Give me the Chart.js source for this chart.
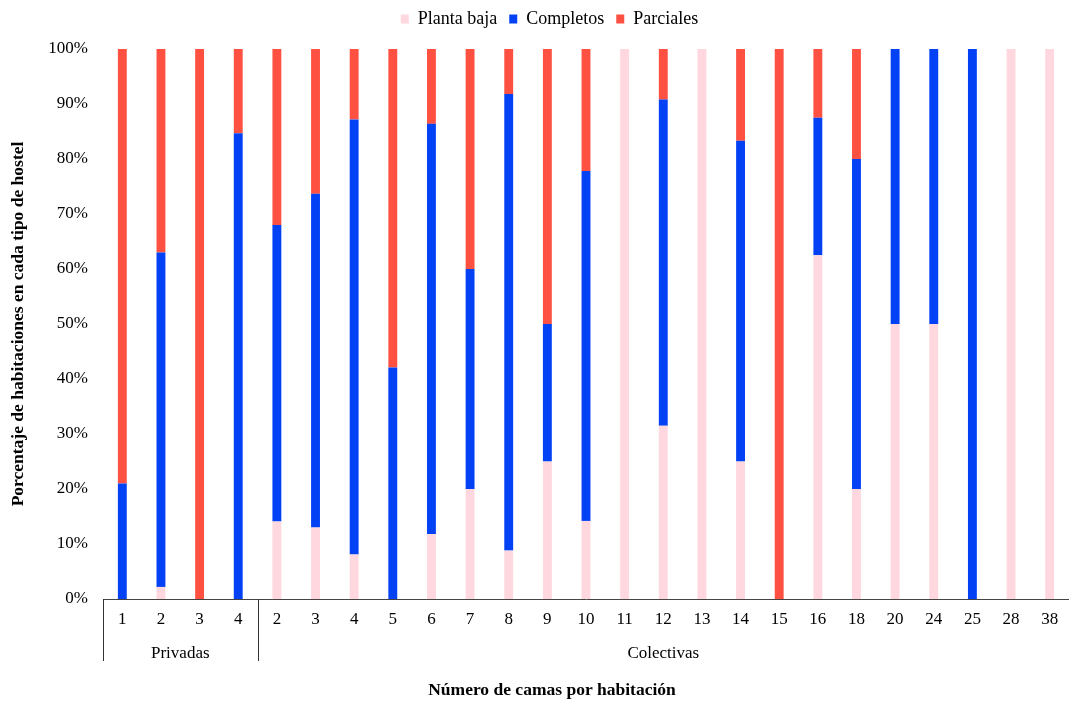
<!DOCTYPE html>
<html>
<head>
<meta charset="utf-8">
<script src="https://cdn.jsdelivr.net/npm/chart.js@4/dist/chart.umd.min.js"></script>
<style>
html,body{margin:0;padding:0;background:#fff;}
#wrap{width:1069px;height:703px;position:relative;}
</style>
</head>
<body>
<div id="wrap"><canvas id="c" width="1069" height="703"></canvas></div>
<script>
// Categories (number of beds per room) and their groups
const categories = ['1','2','3','4','2','3','4','5','6','7','8','9','10','11','12','13','14','15','16','18','20','24','25','28','38'];
const groupNames = ['Privadas', 'Colectivas'];
const groupSizes = [4, 21];

// Series values (% of rooms)
const plantaBaja = [0, 2.2, 0, 0, 14.1, 13.0, 8.1, 0, 11.8, 20.0, 8.8, 25.0, 14.2, 100, 31.5, 100, 25.0, 0, 62.5, 20.0, 50, 50, 0, 100, 100];
const completos  = [21.0, 60.8, 0, 84.7, 53.9, 60.7, 79.1, 42.1, 74.6, 40.0, 83.0, 25.0, 63.6, 0, 59.3, 0, 58.3, 0, 25.0, 60.0, 50, 50, 100, 0, 0];
const parciales  = [79.0, 37.0, 100, 15.3, 32.0, 26.3, 12.8, 57.9, 13.6, 40.0, 8.2, 50.0, 22.2, 0, 9.2, 0, 16.7, 100, 12.5, 20.0, 0, 0, 0, 0, 0];

const yTicks = [0,10,20,30,40,50,60,70,80,90,100];
const seriesNames = ['Planta baja', 'Completos', 'Parciales'];
const seriesColors = ['#FFD7DE', '#0341F5', '#FE5142'];

const FONT = '"Liberation Serif", "Times New Roman", serif';

const groupPlugin = {
  id: 'groups',
  afterDraw(chart) {
    const {ctx, chartArea, scales} = chart;
    const x = scales.x;
    const step = (x.getPixelForValue(1) - x.getPixelForValue(0));
    ctx.save();
    ctx.strokeStyle = '#333';
    ctx.lineWidth = 1;
    let idx = 0;
    const yTop = chartArea.bottom;
    const yBot = chartArea.bottom + 62;
    const boundaries = [0];
    groupSizes.forEach(s => { idx += s; boundaries.push(idx); });
    boundaries.forEach(b => {
      const px = Math.round(x.getPixelForValue(b) - step / 2) + 0.5;
      ctx.beginPath();
      ctx.moveTo(px, yTop);
      ctx.lineTo(px, yBot);
      ctx.stroke();
    });
    ctx.fillStyle = '#000';
    ctx.font = '17px ' + FONT;
    ctx.textAlign = 'center';
    ctx.textBaseline = 'middle';
    for (let g = 0; g < groupNames.length; g++) {
      const a = x.getPixelForValue(boundaries[g]) - step / 2;
      const b = x.getPixelForValue(boundaries[g + 1]) - step / 2;
      ctx.fillText(groupNames[g], (a + b) / 2, chartArea.bottom + 55);
    }
    // axis titles
    ctx.font = 'bold 17.5px ' + FONT;
    ctx.fillText('Número de camas por habitación', 552, 690);
    ctx.save();
    ctx.translate(18, (chartArea.top + chartArea.bottom) / 2);
    ctx.rotate(-Math.PI / 2);
    ctx.fillText('Porcentaje de habitaciones en cada tipo de hostel', 0, 0);
    ctx.restore();
    ctx.restore();
  }
};

const datasets = [plantaBaja, completos, parciales].map((d, i) => ({
  label: seriesNames[i],
  data: d,
  backgroundColor: seriesColors[i],
  borderWidth: 0,
  barPercentage: 0.23,
  categoryPercentage: 1.0
}));

new Chart(document.getElementById('c'), {
  type: 'bar',
  data: { labels: categories, datasets },
  options: {
    responsive: false,
    animation: false,
    layout: { padding: { left: 30, right: 0, top: -2, bottom: 0 } },
    plugins: {
      legend: {
        position: 'top',
        labels: {
          boxWidth: 8,
          boxHeight: 9,
          padding: 12,
          color: '#000',
          font: { family: FONT, size: 18 }
        }
      },
      subtitle: {
        display: true,
        text: '',
        position: 'top',
        weight: 500,
        padding: 0,
        font: { size: 11, lineHeight: 1 }
      },
      tooltip: { enabled: false }
    },
    scales: {
      x: {
        stacked: true,
        grid: { display: false, drawTicks: false },
        border: { display: true, color: '#444', width: 1 },
        ticks: { color: '#000', font: { family: FONT, size: 17, lineHeight: 1.76 }, padding: 6, autoSkip: false, maxRotation: 0 },
        afterFit(s) { s.height = 104; }
      },
      y: {
        stacked: true,
        min: 0, max: 100,
        grid: { display: false, drawTicks: false },
        border: { display: false },
        ticks: {
          stepSize: 10,
          color: '#000',
          font: { family: FONT, size: 17 },
          padding: 15,
          callback: v => yTicks.includes(v) ? v + '%' : ''
        },
        afterFit(s) { s.width = 73; }
      }
    }
  },
  plugins: [groupPlugin]
});
</script>
</body>
</html>
